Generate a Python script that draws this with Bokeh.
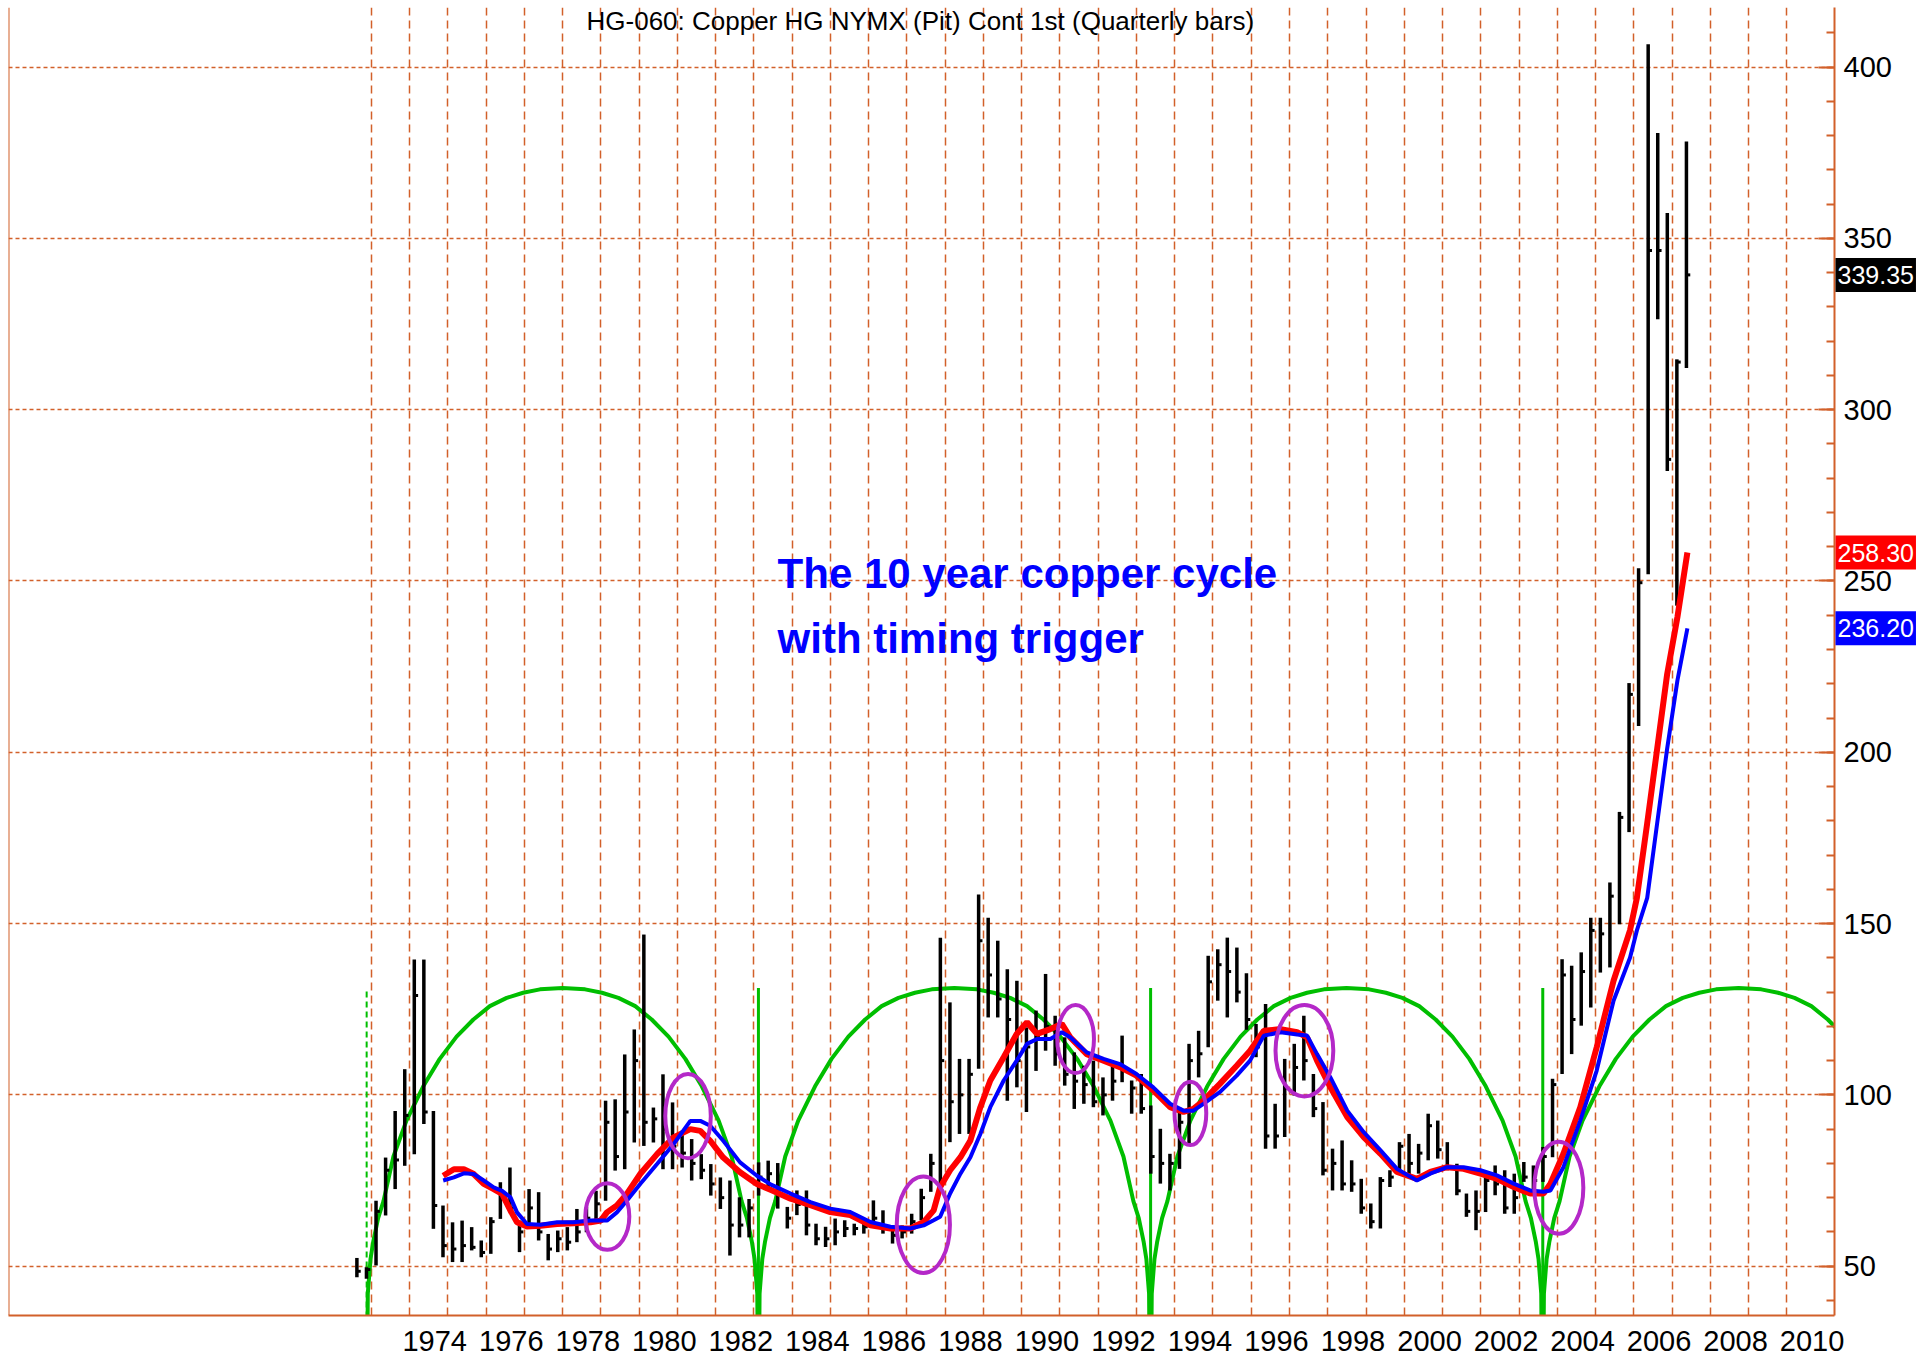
from bokeh.plotting import figure
from bokeh.models import FixedTicker, Label, Span, Range1d, ColumnDataSource
from bokeh.core.properties import value
from bokeh.embed import file_html
from bokeh.resources import INLINE

# ---------------- data ----------------
TITLE = "HG-060: Copper HG NYMX (Pit) Cont 1st (Quarterly bars)"
NOTE_LINES = ["The 10 year copper cycle", "with timing trigger"]

FIRST_YEAR, FIRST_Q = 1972, 3          # first quarterly bar: 1972 Q3

HIGH = [52.4, 49.7, 69.1, 81.7, 95.3, 107.5, 139.5, 139.5, 95.3, 67.7,
        62.8, 63.3, 61.4, 57.5, 64.3, 74.5, 78.8, 63.3, 72.5, 71.6,
        59.4, 60.4, 61.4, 66.7, 67.2, 72.0, 98.3, 98.7, 111.8, 119.1,
        146.8, 96.3, 106.0, 97.8, 89.5, 87.1, 82.7, 79.8, 75.9, 75.0,
        70.1, 69.6, 80.3, 80.8, 80.1, 67.3, 72.1, 72.1, 62.4, 61.5,
        63.9, 63.4, 62.4, 62.4, 69.2, 66.3, 61.5, 61.9, 65.3, 72.6,
        82.8, 145.9, 127.0, 110.5, 110.5, 158.5, 151.7, 145.0, 136.7, 133.3,
        119.7, 124.6, 135.3, 123.1, 116.8, 112.4, 108.5, 110.0, 105.1, 108.5,
        117.3, 104.2, 106.1, 96.9, 90.1, 82.8, 96.4, 114.9, 118.7, 140.6,
        142.5, 145.9, 143.0, 135.5, 120.7, 126.5, 97.4, 110.5, 114.9, 123.1,
        106.1, 97.9, 84.3, 86.7, 80.9, 75.5, 68.3, 76.0, 78.0, 86.2,
        88.6, 85.7, 94.5, 92.5, 86.2, 79.9, 71.2, 72.1, 77.0, 79.4,
        78.0, 77.0, 80.4, 79.4, 84.8, 104.7, 139.6, 137.7, 141.6, 151.7,
        151.7, 162.0, 182.6, 220.2, 253.7, 406.7, 380.8, 357.4, 314.7, 378.3]
LOW = [46.8, 46.3, 50.2, 64.8, 72.5, 79.3, 82.7, 91.5, 60.9, 52.6,
       51.2, 51.2, 54.6, 52.6, 53.6, 63.8, 66.2, 54.1, 61.4, 57.5,
       51.7, 54.1, 54.6, 57.0, 59.9, 63.3, 69.1, 77.9, 78.3, 86.1,
       85.1, 86.1, 78.3, 78.3, 78.8, 75.0, 75.4, 70.6, 66.7, 53.1,
       58.4, 58.4, 70.6, 73.0, 66.8, 61.0, 64.9, 59.0, 56.1, 55.6,
       56.1, 58.5, 59.0, 59.5, 61.5, 59.5, 56.6, 58.1, 59.5, 63.4,
       71.7, 71.7, 86.2, 88.6, 88.6, 107.6, 122.6, 122.6, 98.3, 102.2,
       95.0, 107.0, 112.9, 108.5, 102.7, 95.9, 97.4, 96.4, 94.0, 98.3,
       103.7, 94.5, 94.5, 77.0, 74.1, 72.1, 78.4, 85.7, 105.1, 113.9,
       127.5, 122.6, 127.0, 119.0, 111.0, 84.3, 84.3, 87.7, 99.8, 104.2,
       93.5, 76.5, 72.1, 72.1, 71.7, 65.3, 61.0, 61.0, 73.1, 77.0,
       76.0, 77.0, 80.9, 81.4, 78.0, 70.7, 64.4, 60.5, 65.8, 70.7,
       65.3, 65.3, 74.6, 70.7, 74.6, 81.8, 106.1, 111.9, 120.2, 125.5,
       135.7, 137.2, 149.8, 176.7, 207.7, 252.0, 326.4, 282.1, 242.8, 312.2]
CLOSE = [48.5, 49.0, 66.0, 78.0, 81.0, 94.0, 129.0, 95.0, 67.7, 56.0,
         55.0, 56.0, 55.5, 54.0, 63.0, 70.0, 67.0, 60.0, 67.0, 60.0,
         55.0, 58.0, 57.0, 60.0, 64.0, 68.2, 92.0, 82.0, 95.0, 110.0,
         92.0, 93.0, 90.0, 85.0, 83.0, 80.0, 78.0, 74.0, 70.0, 62.0,
         62.0, 67.0, 76.0, 77.0, 71.0, 64.0, 68.0, 62.0, 58.0, 58.0,
         60.0, 61.0, 61.0, 61.5, 64.0, 61.0, 59.0, 60.0, 63.0, 70.0,
         80.0, 110.0, 98.0, 100.0, 106.0, 145.0, 135.0, 128.0, 122.0, 110.0,
         114.0, 117.0, 120.0, 112.0, 106.0, 104.0, 103.0, 98.0, 100.0, 104.0,
         108.0, 102.0, 96.0, 82.0, 80.0, 80.0, 92.0, 110.0, 112.0, 133.0,
         138.0, 136.0, 130.0, 122.0, 114.0, 88.0, 88.0, 102.0, 108.0, 110.0,
         96.0, 78.0, 80.0, 74.0, 74.0, 67.0, 63.0, 75.0, 76.0, 85.0,
         80.0, 83.0, 91.0, 84.0, 79.0, 72.0, 66.0, 66.0, 75.0, 74.0,
         67.0, 70.0, 76.0, 75.0, 82.0, 103.0, 135.0, 122.0, 136.0, 148.0,
         147.0, 158.0, 181.0, 216.9, 249.5, 346.5, 346.5, 285.5, 313.9, 339.35]

# moving averages (red = fast, blue = slow)
MA_YEARS = [1974.88, 1975.16, 1975.42, 1975.68, 1975.94, 1976.2, 1976.42, 1976.64, 1976.81, 1977.07,
            1977.42, 1977.86, 1978.29, 1978.73, 1979.0, 1979.16, 1979.42, 1979.68, 1980.03, 1980.47,
            1980.9, 1981.34, 1981.6, 1981.86, 1982.2, 1982.64, 1983.08, 1983.45, 1983.96, 1984.48,
            1985.0, 1985.52, 1986.05, 1986.57, 1987.09, 1987.44, 1987.7, 1987.87, 1988.13, 1988.4,
            1988.66, 1988.92, 1989.18, 1989.53, 1989.87, 1990.14, 1990.4, 1990.75, 1991.05, 1991.27,
            1991.7, 1992.14, 1992.57, 1993.0, 1993.44, 1993.88, 1994.23, 1994.49, 1994.75, 1995.18,
            1995.62, 1995.97, 1996.33, 1996.77, 1997.2, 1997.46, 1997.72, 1998.07, 1998.51, 1998.94,
            1999.38, 1999.81, 2000.33, 2000.68, 2001.12, 2001.55, 2001.99, 2002.42, 2002.86, 2003.29,
            2003.64, 2003.82, 2004.16, 2004.6, 2005.03, 2005.47, 2005.9, 2006.08, 2006.35, 2006.61,
            2006.87, 2007.14, 2007.4]
RED_MA = [76.4, 78.3, 78.3, 76.9, 74.0, 72.5, 71.1, 66.2, 62.8, 61.6,
          61.8, 62.3, 62.5, 62.8, 63.3, 65.7, 67.7, 71.1, 76.9, 82.7,
          87.6, 90.0, 89.5, 86.6, 81.7, 77.4, 74.0, 72.2, 69.7, 67.8,
          65.8, 64.9, 61.9, 61.0, 61.0, 62.9, 66.3, 73.1, 78.0, 81.8,
          86.7, 96.4, 104.2, 111.0, 117.8, 121.2, 117.8, 119.2, 120.7, 116.8,
          111.9, 110.0, 108.1, 105.6, 101.3, 96.4, 95.0, 95.9, 98.3, 103.2,
          108.5, 112.9, 118.7, 119.2, 118.3, 116.8, 110.0, 102.2, 93.5, 87.7,
          82.8, 77.5, 75.5, 77.5, 78.9, 78.4, 77.0, 75.5, 73.1, 71.2,
          71.2, 74.1, 82.8, 96.4, 113.9, 133.3, 148.0, 157.5, 179.3, 201.0,
          222.7, 239.5, 258.30]
BLUE_MA = [75.0, 75.9, 77.1, 76.9, 75.0, 73.0, 72.0, 70.1, 65.7, 62.3,
           62.1, 62.8, 62.8, 63.3, 63.3, 63.3, 65.7, 69.1, 74.0, 79.8,
           85.6, 92.4, 92.4, 91.0, 86.6, 80.3, 76.4, 73.8, 71.2, 68.7,
           66.8, 65.8, 62.9, 61.5, 61.0, 61.9, 63.4, 64.4, 71.2, 77.0,
           81.8, 88.6, 96.4, 104.2, 110.0, 114.9, 116.3, 116.3, 118.3, 116.8,
           112.4, 110.5, 109.0, 106.1, 102.2, 97.4, 95.4, 95.4, 97.4, 100.8,
           105.6, 110.0, 117.3, 118.3, 117.6, 117.3, 111.9, 105.1, 95.4, 89.1,
           83.8, 78.4, 75.0, 77.0, 78.9, 78.9, 78.0, 76.5, 74.1, 72.1,
           71.7, 72.1, 78.9, 92.5, 107.1, 127.5, 140.0, 148.0, 157.5, 179.3,
           201.0, 221.0, 236.20]

# ~10.24 year cycle: lows and the read shape of one half arc (years after a low -> value)
CYCLE_LOWS = [1972.88, 1983.12, 1993.37, 2003.62]
ARC_DT = [0.0, 0.03, 0.1, 0.17, 0.3, 0.44, 0.7, 1.04, 1.48, 1.91, 2.35, 2.79, 3.22, 3.66, 4.09, 4.53, 5.12]
ARC_VAL = [0.0, 42.0, 52.0, 57.0, 64.0, 69.0, 82.0, 92.5, 102.5, 110.5, 117.0, 122.0,
           125.9, 128.3, 129.8, 130.8, 131.2]

# timing-trigger circles: centre year, centre price, width (years), height (price)
TRIG_X = [1979.17, 1981.28, 1987.43, 1991.41, 1994.41, 1997.39, 2004.04]
TRIG_Y = [64.5, 93.8, 62.1, 116.3, 94.6, 112.9, 72.9]
TRIG_W = [1.15, 1.19, 1.39, 0.96, 0.83, 1.51, 1.28]
TRIG_H = [19.5, 24.6, 28.2, 19.9, 18.5, 26.7, 26.9]

Y_TICKS = [50, 100, 150, 200, 250, 300, 350, 400]
Y_MINOR = list(range(40, 411, 10))
GRID_YEARS = list(range(1973, 2011))
X_LABEL_YEARS = list(range(1974, 2011, 2))

# ---------------- styling ----------------
FONT = "'Liberation Sans', Arial, sans-serif"
ORANGE = "#D2602A"
GREEN = "#00BE00"
MAGENTA = "#B428C8"
X0, X1 = 1963.519, 2011.245
Y0, Y1 = 35.6, 417.4

p = figure(frame_width=1826, frame_height=1308, output_backend="svg", toolbar_location=None,
           x_range=Range1d(X0, X1), y_range=Range1d(Y0, Y1), y_axis_location="right",
           min_border_left=8, min_border_top=7, min_border_right=86, min_border_bottom=46)
p.background_fill_color = "white"
p.border_fill_color = "white"
p.outline_line_color = None

# axes
p.yaxis.ticker = FixedTicker(ticks=Y_TICKS, minor_ticks=Y_MINOR)
p.yaxis.axis_line_color = ORANGE
p.yaxis.axis_line_width = 2
p.yaxis.major_tick_line_color = ORANGE
p.yaxis.major_tick_line_width = 2
p.yaxis.major_tick_in = 16
p.yaxis.major_tick_out = 0
p.yaxis.minor_tick_line_color = ORANGE
p.yaxis.minor_tick_line_width = 2
p.yaxis.minor_tick_in = 8
p.yaxis.minor_tick_out = 0
p.yaxis.major_label_text_font = FONT
p.yaxis.major_label_text_font_size = "29px"
p.yaxis.major_label_text_color = "black"
p.yaxis.major_label_standoff = 9

LABEL_SHIFT = 0.66   # labels sit to the right of their year line
label_pos = [yr + LABEL_SHIFT for yr in X_LABEL_YEARS]
p.xaxis.ticker = FixedTicker(ticks=label_pos, minor_ticks=[])
p.xaxis.major_label_overrides = {pos: str(yr) for pos, yr in zip(label_pos, X_LABEL_YEARS)}
p.xaxis.axis_line_color = ORANGE
p.xaxis.axis_line_width = 2
p.xaxis.major_tick_line_color = None
p.xaxis.minor_tick_line_color = None
p.xaxis.major_tick_in = 0
p.xaxis.major_tick_out = 0
p.xaxis.major_label_text_font = FONT
p.xaxis.major_label_text_font_size = "29px"
p.xaxis.major_label_text_color = "black"
p.xaxis.major_label_standoff = 15

# grids
p.ygrid.grid_line_color = ORANGE
p.ygrid.grid_line_dash = "4 3"
p.ygrid.grid_line_width = 1.5
p.xgrid.ticker = FixedTicker(ticks=GRID_YEARS)
p.xgrid.grid_line_color = ORANGE
p.xgrid.grid_line_dash = "8 5"
p.xgrid.grid_line_width = 1.5

p.add_layout(Span(location=X0, dimension="height", line_color=ORANGE, line_width=2))

# title at the top edge
p.text(x=[1987.35], y=[Y1 - 4.0], text=[TITLE], text_font=value(FONT),
       text_font_size="26px", text_align="center", text_baseline="middle", text_color="black")

# cycle arcs
xs, ys = [], []
half = ARC_DT[-1]
for low in CYCLE_LOWS:
    dts = ARC_DT + [2 * half - d for d in reversed(ARC_DT[:-1])]
    vals = ARC_VAL + list(reversed(ARC_VAL[:-1]))
    xs.append([low + d for d in dts])
    ys.append(vals)
p.multi_line(xs, ys, line_color=GREEN, line_width=4)
# vertical cycle markers
p.segment(x0=CYCLE_LOWS[:1], y0=[ARC_VAL[0]], x1=CYCLE_LOWS[:1], y1=[ARC_VAL[-1]],
          line_color=GREEN, line_width=2, line_dash="6 4")
p.segment(x0=CYCLE_LOWS[1:], y0=[ARC_VAL[0]] * 3, x1=CYCLE_LOWS[1:], y1=[ARC_VAL[-1]] * 3,
          line_color=GREEN, line_width=3)

# quarterly bars
bx = []
for i in range(len(HIGH)):
    q = FIRST_Q - 1 + i
    bx.append(FIRST_YEAR + q // 4 + (q % 4) * 0.25 + 0.125)
src = ColumnDataSource(dict(x=bx, hi=HIGH, lo=LOW, c=CLOSE, xc=[v + 0.1 for v in bx]))
p.segment(x0="x", y0="lo", x1="x", y1="hi", source=src, line_color="black", line_width=3.5)
p.segment(x0="x", y0="c", x1="xc", y1="c", source=src, line_color="black", line_width=3)

# moving averages
p.line(MA_YEARS, RED_MA, line_color="#FF0000", line_width=6)
p.line(MA_YEARS, BLUE_MA, line_color="#0000FF", line_width=4)

# trigger circles
p.ellipse(x=TRIG_X, y=TRIG_Y, width=TRIG_W, height=TRIG_H, fill_color=None,
          line_color=MAGENTA, line_width=4)

# annotation
p.text(x=[1983.62, 1983.62], y=[252.1, 233.1], text=NOTE_LINES, text_font=value(FONT),
       text_font_size="42px", text_font_style="bold", text_color="#0000FF",
       text_align="left", text_baseline="middle")

# last values on the price scale (placed in the right side panel so they are not clipped)
for val, bg in [(CLOSE[-1], "black"), (RED_MA[-1], "#FF0000"), (BLUE_MA[-1], "#0000FF")]:
    p.add_layout(Label(x=X1, y=val, x_offset=1, text="%.2f" % val, text_font=FONT,
                       text_font_size="25px", text_color="white", text_baseline="middle",
                       text_align="left", background_fill_color=bg,
                       padding=dict(left=2, right=2, top=8, bottom=8)), "right")

open("out.html", "w").write(file_html(p, INLINE))
